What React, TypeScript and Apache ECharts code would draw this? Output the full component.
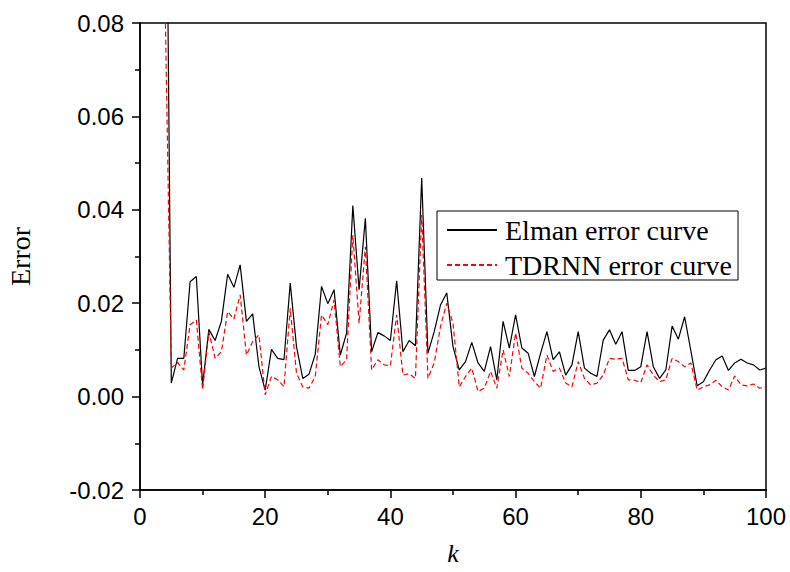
import React, { useEffect, useRef } from "react";
import * as echarts from "echarts";

const K: number[] = [];
for (let k = 4; k <= 100; k++) K.push(k);

const elman = [
  0.15, 0.0029, 0.0082, 0.0082, 0.0246, 0.0257, 0.0025, 0.0144, 0.012, 0.0161,
  0.0262, 0.0234, 0.0282, 0.0161, 0.0177, 0.0064, 0.0014, 0.0101, 0.0082, 0.0079,
  0.0243, 0.0107, 0.0039, 0.0048, 0.0091, 0.0236, 0.0199, 0.0229, 0.0089, 0.0136,
  0.0409, 0.0229, 0.0382, 0.0096, 0.0137, 0.013, 0.012, 0.0248, 0.0096, 0.012,
  0.0109, 0.0468, 0.0093, 0.0139, 0.0196, 0.0222, 0.0107, 0.0057, 0.0075, 0.0116,
  0.0072, 0.0054, 0.0107, 0.0036, 0.0161, 0.0104, 0.0175, 0.0104, 0.0093, 0.0043,
  0.0093, 0.0139, 0.0079, 0.0096, 0.0046, 0.0068, 0.0139, 0.0061, 0.005, 0.0043,
  0.0121, 0.0143, 0.0112, 0.0139, 0.0056, 0.0056, 0.0064, 0.0139, 0.0064, 0.0039,
  0.0057, 0.0151, 0.0123, 0.0171, 0.0098, 0.0023, 0.0032, 0.0057, 0.0079, 0.0087,
  0.0056, 0.0072, 0.008, 0.0072, 0.0068, 0.0057, 0.0061,
];

const tdrnn = [
  0.085, 0.0061, 0.0073, 0.0057, 0.0154, 0.0164, 0.0014, 0.0139, 0.0082, 0.0096,
  0.0182, 0.0166, 0.0218, 0.0089, 0.0118, 0.0132, 0.0004, 0.0043, 0.0036, 0.0021,
  0.0189, 0.005, 0.0021, 0.0018, 0.0043, 0.0175, 0.0154, 0.0207, 0.0064, 0.0079,
  0.0346, 0.0157, 0.0321, 0.0057, 0.0079, 0.0068, 0.0066, 0.0175, 0.0046, 0.0049,
  0.0039, 0.0389, 0.0039, 0.0072, 0.015, 0.02, 0.0157, 0.0021, 0.0043, 0.0061,
  0.0011, 0.0018, 0.0054, 0.0018, 0.01, 0.0043, 0.0136, 0.0061, 0.005, 0.0032,
  0.0018, 0.0089, 0.0054, 0.0061, 0.0029, 0.0021, 0.0075, 0.0039, 0.0025, 0.0029,
  0.0046, 0.0082, 0.008, 0.0082, 0.0036, 0.0035, 0.003, 0.0068, 0.0046, 0.0032,
  0.0036, 0.0082, 0.0075, 0.0064, 0.0072, 0.0014, 0.0021, 0.0025, 0.0035, 0.0021,
  0.0014, 0.0044, 0.0025, 0.0023, 0.0027, 0.0018, 0.0021,
];

const seriesNames = ["Elman error curve", "TDRNN error curve"];
const xTitle = "k";
const yTitle = "Error";

export default function App() {
  const ref = useRef<HTMLDivElement>(null);
  useEffect(() => {
    if (!ref.current) return;
    const chart = echarts.init(ref.current, undefined, { renderer: "svg" });
    const sans = "'Liberation Sans', Arial, sans-serif";
    const serif = "'Liberation Serif', 'Times New Roman', serif";
    const axisCommon = {
      axisLine: { show: true, onZero: false, lineStyle: { color: "#000", width: 1.5 } },
      axisTick: { show: true, inside: false, length: 8, lineStyle: { color: "#000", width: 1.5 } },
      minorTick: { show: true, splitNumber: 2, length: 5, lineStyle: { color: "#000", width: 1.5 } },
      splitLine: { show: false },
      minorSplitLine: { show: false },
    };
    chart.setOption({
      animation: false,
      backgroundColor: "#fff",
      grid: {
        left: 140,
        top: 23,
        right: 24,
        bottom: 82,
        outerBoundsMode: "none",
        containLabel: false,
        show: true,
        borderColor: "#000",
        borderWidth: 1.5,
        backgroundColor: "transparent",
      },
      legend: {
        data: seriesNames,
        orient: "vertical",
        left: 437,
        top: 211,
        itemWidth: 50,
        itemHeight: 14,
        itemGap: 7,
        padding: [5, 6, 1, 9],
        borderColor: "#000",
        borderWidth: 1,
        backgroundColor: "#fff",
        itemStyle: { opacity: 0 },
        textStyle: { fontFamily: serif, fontSize: 28, color: "#000", padding: [0, 0, 0, 3] },
      },
      xAxis: {
        type: "value",
        min: 0,
        max: 100,
        interval: 20,
        name: xTitle,
        nameLocation: "middle",
        nameGap: 50,
        nameTextStyle: { fontFamily: serif, fontStyle: "italic", fontSize: 26, color: "#000" },
        axisLabel: { fontFamily: sans, fontSize: 24, color: "#000", margin: 14 },
        ...axisCommon,
      },
      yAxis: {
        type: "value",
        min: -0.02,
        max: 0.08,
        interval: 0.02,
        name: yTitle,
        nameLocation: "middle",
        nameRotate: 90,
        nameGap: 106,
        nameTextStyle: { fontFamily: serif, fontSize: 28, color: "#000" },
        axisLabel: {
          fontFamily: sans,
          fontSize: 24,
          color: "#000",
          margin: 16,
          formatter: (v: number) => v.toFixed(2),
        },
        ...axisCommon,
      },
      series: [
        {
          name: seriesNames[0],
          type: "line",
          data: K.map((k, i) => [k, elman[i]]),
          showSymbol: false,
          symbol: "none",
          clip: true,
          lineStyle: { color: "#000", width: 1.2 },
          itemStyle: { color: "#000" },
        },
        {
          name: seriesNames[1],
          type: "line",
          data: K.map((k, i) => [k, tdrnn[i]]),
          showSymbol: false,
          symbol: "none",
          clip: true,
          lineStyle: { color: "#ff0000", width: 1.2, type: [5, 3] },
          itemStyle: { color: "#ff0000" },
        },
      ],
    });
    return () => chart.dispose();
  }, []);
  return (
    <div
      ref={ref}
      style={{ position: "fixed", left: 0, top: 0, width: 790, height: 572, background: "#fff" }}
    />
  );
}
